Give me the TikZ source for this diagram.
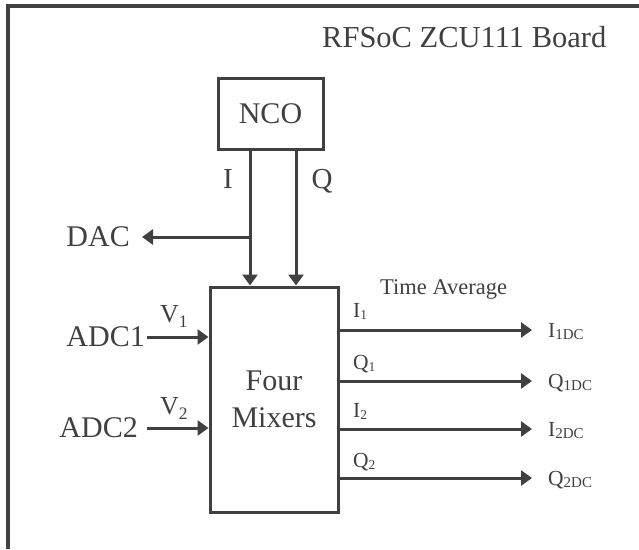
\documentclass[tikz,border=0pt]{standalone}
\usepackage{fontspec}
\setmainfont{Liberation Serif}
\usetikzlibrary{arrows.meta}
\definecolor{ink}{RGB}{64,64,64}
\newcommand{\myfs}[1]{\fontsize{#1}{#1}\selectfont}
\begin{document}
\begin{tikzpicture}[x=1pt,y=-1pt,
  line/.style={draw=ink,line width=3pt},
  arr/.style={line,-{Triangle[length=11pt,width=15pt]}},
  box/.style={draw=ink,line width=3pt,inner sep=0pt,text=ink},
  lbl/.style={text=ink,inner sep=0pt},
  big/.style={font=\myfs{30}},
  mid/.style={font=\myfs{21.5}}
]
\useasboundingbox (0,0) rectangle (639,549);
% board frame (clipped by page)
\draw[draw=ink,line width=3.5pt,line join=miter] (8,549) -- (8,6) -- (639,6);
\node[lbl,anchor=base west,font=\myfs{30.5}] (title) at (322,47) {RFSoC ZCU111 Board};

% blocks
\node[box,big,minimum width=105pt,minimum height=71pt] (nco) at (270.5,113.5) {NCO};
\node[box,align=center,font=\fontsize{30}{37}\selectfont,minimum width=128pt,minimum height=225pt] (mix) at (274,399.5) {Four\\Mixers};

% NCO outputs
\coordinate (iline) at (250,0);
\coordinate (qline) at (296,0);
\coordinate (jdac) at (250,237);
\draw[arr] (nco.south -| iline) -- (mix.north -| iline);
\draw[arr] (nco.south -| qline) -- (mix.north -| qline);
\node[lbl,anchor=base,font=\myfs{29}] (ilab) at (228,188) {I};
\node[lbl,anchor=base,font=\myfs{29}] (qlab) at (322,188) {Q};

% DAC
\node[lbl,big,anchor=east,inner xsep=12pt] (dac) at (142,237) {DAC};
\draw[arr] (jdac) -- (dac.east);

% ADC inputs
\node[lbl,big,anchor=east,inner xsep=2pt] (adc1) at (147,337) {ADC1};
\node[lbl,big,anchor=east,inner xsep=9pt] (adc2) at (147,428) {ADC2};
\draw[arr] (adc1.east) -- (adc1.east -| mix.west);
\draw[arr] (adc2.east) -- (adc2.east -| mix.west);
\node[lbl,anchor=base west,font=\myfs{26}] (v1) at (160,322) {V\raisebox{-5pt}{\myfs{17.5}1}};
\node[lbl,anchor=base west,font=\myfs{26}] (v2) at (160,414) {V\raisebox{-5pt}{\myfs{17.5}2}};

% outputs
\node[lbl,anchor=base west,font=\myfs{22.5}] (tavg) at (380,294) {Time Average};
\coordinate (t1) at (532,330);
\coordinate (t2) at (532,381);
\coordinate (t3) at (532,429);
\coordinate (t4) at (532,478);
\draw[arr] (t1 -| mix.east) -- (t1);
\draw[arr] (t2 -| mix.east) -- (t2);
\draw[arr] (t3 -| mix.east) -- (t3);
\draw[arr] (t4 -| mix.east) -- (t4);
\node[lbl,mid,anchor=base west] (i1) at (353,317) {I\raisebox{-2pt}{\myfs{13.5}1}};
\node[lbl,mid,anchor=base west] (q1) at (353,369) {Q\raisebox{-2pt}{\myfs{13.5}1}};
\node[lbl,mid,anchor=base west] (i2) at (353,417) {I\raisebox{-2pt}{\myfs{13.5}2}};
\node[lbl,mid,anchor=base west] (q2) at (353,467) {Q\raisebox{-2pt}{\myfs{13.5}2}};
\node[lbl,mid,anchor=base west] (i1dc) at (548,337) {I\raisebox{-2pt}{\myfs{15}1DC}};
\node[lbl,mid,anchor=base west] (q1dc) at (548,388) {Q\raisebox{-2pt}{\myfs{15}1DC}};
\node[lbl,mid,anchor=base west] (i2dc) at (548,436) {I\raisebox{-2pt}{\myfs{15}2DC}};
\node[lbl,mid,anchor=base west] (q2dc) at (548,485) {Q\raisebox{-2pt}{\myfs{15}2DC}};
\end{tikzpicture}
\end{document}
